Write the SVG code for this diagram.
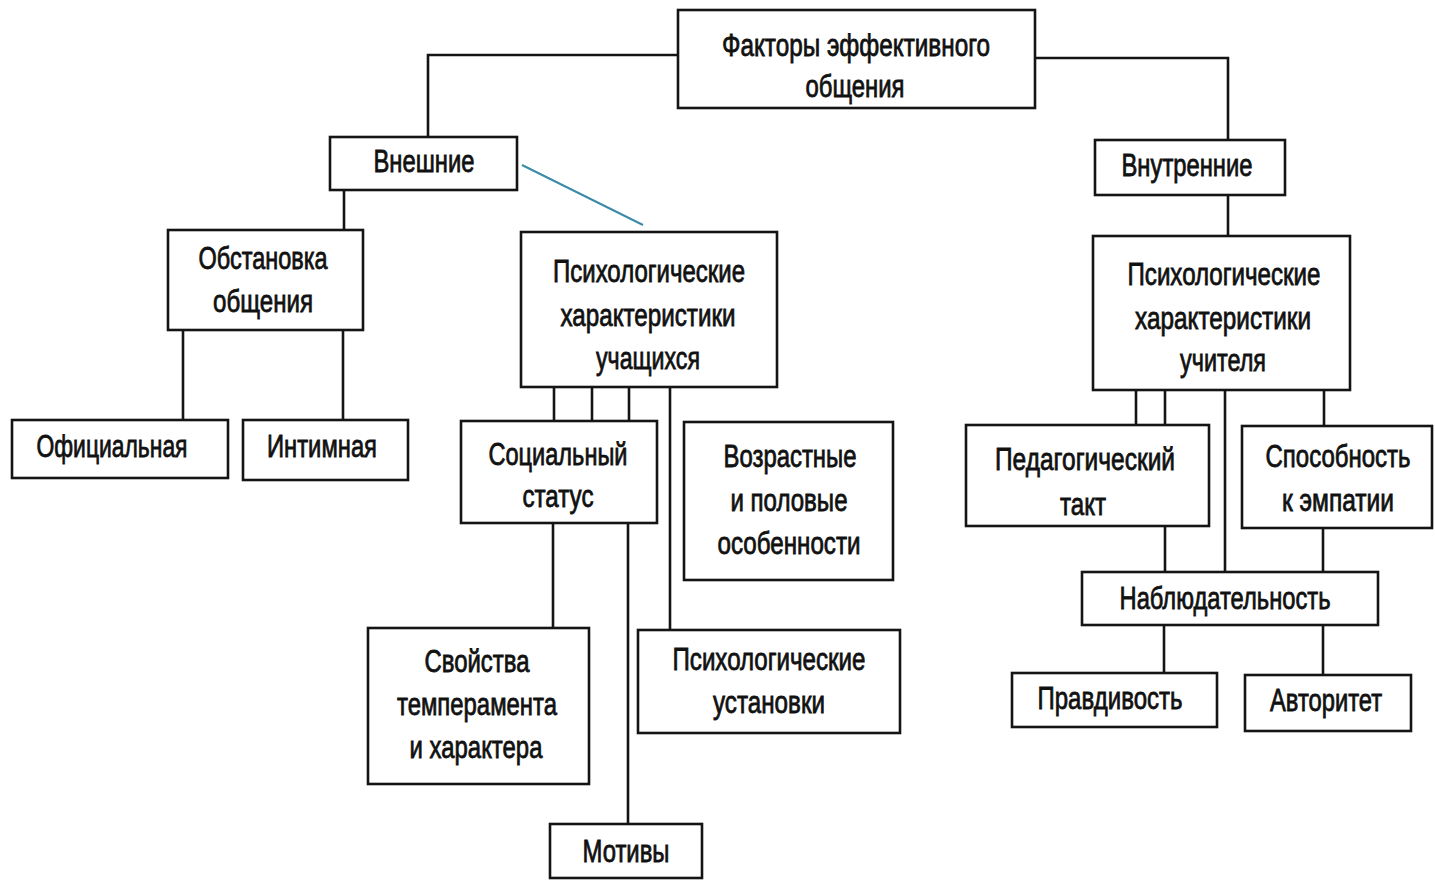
<svg xmlns="http://www.w3.org/2000/svg" width="1435" height="880" viewBox="0 0 1435 880">
<style>
.box{fill:#fff;stroke:#141414;stroke-width:2.6}
.ln{fill:none;stroke:#141414;stroke-width:2.6}
text{font-family:"Liberation Sans Narrow","Liberation Sans","DejaVu Sans Condensed",sans-serif;font-size:31px;fill:#111;stroke:#111;stroke-width:0.8;text-anchor:middle}
</style>
<rect width="1435" height="880" fill="#fff"/>
<g id="connectors">
<polyline class="ln" points="678,55 428,55 428,137"/>
<polyline class="ln" points="1035,58 1228,58 1228,140"/>
<line class="ln" x1="344" y1="190" x2="344" y2="230"/>
<line class="ln" x1="183" y1="330" x2="183" y2="420"/>
<line class="ln" x1="343" y1="330" x2="343" y2="420"/>
<line class="ln" x1="554" y1="387" x2="554" y2="421"/>
<line class="ln" x1="592" y1="387" x2="592" y2="421"/>
<line class="ln" x1="629" y1="387" x2="629" y2="421"/>
<line class="ln" x1="670" y1="387" x2="670" y2="630"/>
<line class="ln" x1="553" y1="523" x2="553" y2="628"/>
<line class="ln" x1="628" y1="523" x2="628" y2="824"/>
<line class="ln" x1="1228" y1="195" x2="1228" y2="236"/>
<line class="ln" x1="1136" y1="390" x2="1136" y2="425"/>
<line class="ln" x1="1165" y1="390" x2="1165" y2="425"/>
<line class="ln" x1="1225" y1="390" x2="1225" y2="572"/>
<line class="ln" x1="1324" y1="390" x2="1324" y2="426"/>
<line class="ln" x1="1165" y1="526" x2="1165" y2="572"/>
<line class="ln" x1="1323" y1="528" x2="1323" y2="572"/>
<line class="ln" x1="1164" y1="625" x2="1164" y2="673"/>
<line class="ln" x1="1323" y1="625" x2="1323" y2="675"/>
<line x1="522" y1="165" x2="643" y2="225" stroke="#3a8aa8" stroke-width="2"/>
</g>
<g id="n-root">
<rect class="box" x="678" y="10" width="357" height="98"/>
<text x="856" y="56" textLength="268" lengthAdjust="spacingAndGlyphs">Факторы эффективного</text>
<text x="855" y="97" textLength="99" lengthAdjust="spacingAndGlyphs">общения</text>
</g>
<g id="n-vneshnie">
<rect class="box" x="330" y="137" width="187" height="53"/>
<text x="424" y="172" textLength="101" lengthAdjust="spacingAndGlyphs">Внешние</text>
</g>
<g id="n-vnutrennie">
<rect class="box" x="1095" y="140" width="190" height="55"/>
<text x="1187" y="176" textLength="131" lengthAdjust="spacingAndGlyphs">Внутренние</text>
</g>
<g id="n-obstanovka">
<rect class="box" x="168" y="230" width="195" height="100"/>
<text x="263" y="269" textLength="129" lengthAdjust="spacingAndGlyphs">Обстановка</text>
<text x="263" y="312" textLength="100" lengthAdjust="spacingAndGlyphs">общения</text>
</g>
<g id="n-oficialnaya">
<rect class="box" x="12" y="420" width="216" height="58"/>
<text x="112" y="457" textLength="151" lengthAdjust="spacingAndGlyphs">Официальная</text>
</g>
<g id="n-intimnaya">
<rect class="box" x="243" y="420" width="165" height="60"/>
<text x="322" y="457" textLength="110" lengthAdjust="spacingAndGlyphs">Интимная</text>
</g>
<g id="n-psych-uch">
<rect class="box" x="521" y="232" width="256" height="155"/>
<text x="649" y="282" textLength="192" lengthAdjust="spacingAndGlyphs">Психологические</text>
<text x="648" y="326" textLength="175" lengthAdjust="spacingAndGlyphs">характеристики</text>
<text x="648" y="369" textLength="104" lengthAdjust="spacingAndGlyphs">учащихся</text>
</g>
<g id="n-social">
<rect class="box" x="461" y="421" width="196" height="102"/>
<text x="558" y="465" textLength="139" lengthAdjust="spacingAndGlyphs">Социальный</text>
<text x="558" y="507" textLength="71" lengthAdjust="spacingAndGlyphs">статус</text>
</g>
<g id="n-vozrast">
<rect class="box" x="684" y="422" width="209" height="158"/>
<text x="790" y="467" textLength="133" lengthAdjust="spacingAndGlyphs">Возрастные</text>
<text x="789" y="511" textLength="117" lengthAdjust="spacingAndGlyphs">и половые</text>
<text x="789" y="554" textLength="143" lengthAdjust="spacingAndGlyphs">особенности</text>
</g>
<g id="n-svoistva">
<rect class="box" x="368" y="628" width="221" height="156"/>
<text x="477" y="672" textLength="105" lengthAdjust="spacingAndGlyphs">Свойства</text>
<text x="477" y="715" textLength="160" lengthAdjust="spacingAndGlyphs">темперамента</text>
<text x="476" y="758" textLength="133" lengthAdjust="spacingAndGlyphs">и характера</text>
</g>
<g id="n-ustanovki">
<rect class="box" x="638" y="630" width="262" height="103"/>
<text x="769" y="670" textLength="193" lengthAdjust="spacingAndGlyphs">Психологические</text>
<text x="769" y="713" textLength="112" lengthAdjust="spacingAndGlyphs">установки</text>
</g>
<g id="n-motivy">
<rect class="box" x="550" y="824" width="152" height="54"/>
<text x="626" y="862" textLength="87" lengthAdjust="spacingAndGlyphs">Мотивы</text>
</g>
<g id="n-psych-uchit">
<rect class="box" x="1093" y="236" width="257" height="154"/>
<text x="1224" y="285" textLength="193" lengthAdjust="spacingAndGlyphs">Психологические</text>
<text x="1223" y="329" textLength="176" lengthAdjust="spacingAndGlyphs">характеристики</text>
<text x="1223" y="371" textLength="86" lengthAdjust="spacingAndGlyphs">учителя</text>
</g>
<g id="n-ped-takt">
<rect class="box" x="966" y="425" width="243" height="101"/>
<text x="1085" y="470" textLength="180" lengthAdjust="spacingAndGlyphs">Педагогический</text>
<text x="1083" y="515" textLength="46" lengthAdjust="spacingAndGlyphs">такт</text>
</g>
<g id="n-empatiya">
<rect class="box" x="1242" y="426" width="190" height="102"/>
<text x="1338" y="467" textLength="145" lengthAdjust="spacingAndGlyphs">Способность</text>
<text x="1338" y="511" textLength="112" lengthAdjust="spacingAndGlyphs">к эмпатии</text>
</g>
<g id="n-nablyud">
<rect class="box" x="1082" y="572" width="296" height="53"/>
<text x="1225" y="609" textLength="211" lengthAdjust="spacingAndGlyphs">Наблюдательность</text>
</g>
<g id="n-pravdivost">
<rect class="box" x="1012" y="673" width="205" height="54"/>
<text x="1110" y="709" textLength="145" lengthAdjust="spacingAndGlyphs">Правдивость</text>
</g>
<g id="n-avtoritet">
<rect class="box" x="1245" y="675" width="166" height="56"/>
<text x="1326" y="711" textLength="112" lengthAdjust="spacingAndGlyphs">Авторитет</text>
</g>
</svg>
